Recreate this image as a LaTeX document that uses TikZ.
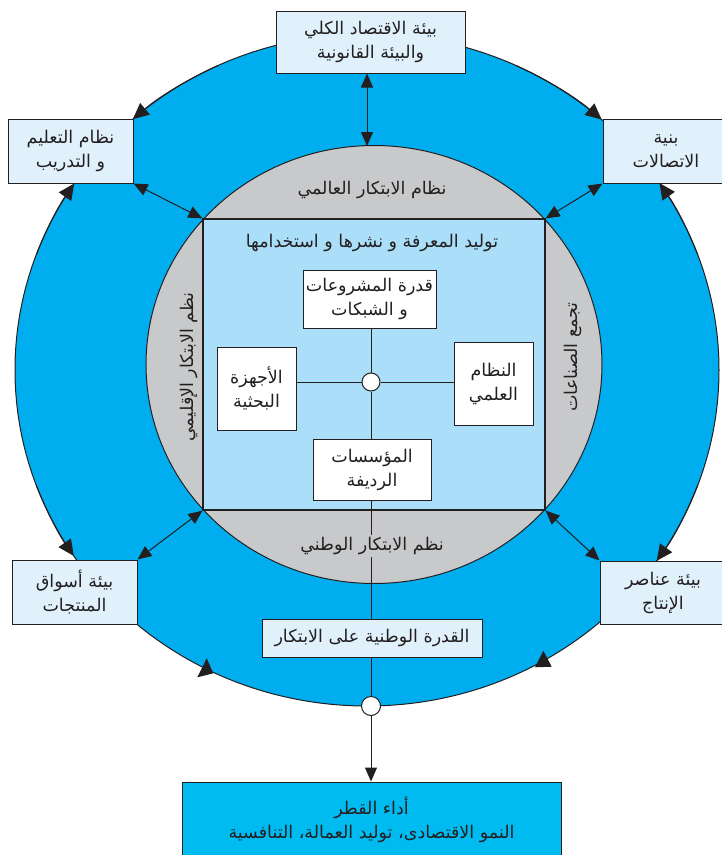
\documentclass[tikz,border=0pt]{standalone}
\usepackage{fontspec}
\usetikzlibrary{arrows.meta,positioning,calc}
\TeXXeTstate=1
\newfontfamily\arabicfont[Script=Arabic]{DejaVu Sans}
\newcommand{\artxt}[1]{\beginR#1\endR}
\definecolor{ringblue}{RGB}{0,174,239}
\definecolor{coregray}{RGB}{200,201,203}
\definecolor{sqblue}{RGB}{171,222,248}
\definecolor{boxtint}{RGB}{225,241,252}
\definecolor{perfblue}{RGB}{0,187,240}
\definecolor{ink}{RGB}{35,31,32}
\tikzset{
  envbox/.style={draw=ink, fill=boxtint, line width=1pt, align=center, inner sep=2pt,
                 text=ink, font=\arabicfont\fontsize{17.5}{24}\selectfont},
  unit/.style={envbox, fill=white},
  lbl/.style={text=ink, inner sep=2pt, font=\arabicfont\fontsize{17.5}{24}\selectfont},
  link/.style={draw=ink, line width=1pt},
  ringarrow/.style={link, -{Triangle[length=16pt,width=15pt]}},
  dbl/.style={link, {Triangle[length=14pt,width=12pt]}-{Triangle[length=14pt,width=12pt]}},
  flow/.style={link, -{Triangle[length=14pt,width=12pt]}},
}

\begin{document}
\begin{tikzpicture}[x=1pt,y=-1pt]
  \useasboundingbox (0,0) rectangle (721,855);
  % outer ring and core
  \coordinate (ring) at (367,370);
  \filldraw[draw=ink, fill=ringblue, line width=1pt] (ring) ellipse [x radius=352, y radius=336];
  \coordinate (core) at (374,364.5);
  \filldraw[draw=ink, fill=coregray, line width=1pt] (core) ellipse [x radius=228, y radius=219];
  \node[draw=ink, fill=sqblue, line width=1.2pt, minimum width=342, minimum height=291] (sq) at (core) {};
  \coordinate (gtop) at (367,146);

  % arrows along the ring
  \foreach \from/\to in {245/228.3, 295/311.8, 160/146.4, 200/213.7, 20/34.6, -20/-33.8}
    \draw[ringarrow] ([shift={(ring)}]\from:352 and 336)
      arc[start angle=\from, end angle=\to, x radius=352, y radius=336];
  \fill[ink] (206.7,658.3) -- (197.3,677.3) -- (213.3,673.3) -- cycle;
  \fill[ink] (543.3,650.7) -- (535,667.3) -- (551.7,666.7) -- cycle;

  % environment boxes
  \node[envbox, minimum width=189, minimum height=62] (macro) at (370.5,42)
    {\artxt{بيئة الاقتصاد الكلي}\\\artxt{والبيئة القانونية}};
  \node[envbox, minimum width=125, minimum height=64] (edu) at (70.5,151)
    {\artxt{نظام التعليم}\\\artxt{و التدريب}};
  \node[envbox, minimum width=126, minimum height=64] (telecom) at (666,151)
    {\artxt{بنية}\\\artxt{الاتصالات}};
  \node[envbox, minimum width=125, minimum height=64] (markets) at (74.5,592)
    {\artxt{بيئة أسواق}\\\artxt{المنتجات}};
  \node[envbox, minimum width=126, minimum height=63] (factors) at (663,592.5)
    {\artxt{بيئة عناصر}\\\artxt{الإنتاج}};
  \node[envbox, minimum width=220, minimum height=38] (capacity) at (372,638)
    {\artxt{القدرة الوطنية على الابتكار}};
  \node[envbox, fill=perfblue, minimum width=379, minimum height=76] (perf) at (371.5,820)
    {\artxt{أداء القطر}\\\artxt{النمو الاقتصادى، توليد العمالة، التنافسية}};

  % units inside the square
  \node[lbl] (title) at (372,243) {\artxt{توليد المعرفة و نشرها و استخدامها}};
  \node[unit, minimum width=133, minimum height=58] (firms) at (369.5,299)
    {\artxt{قدرة المشروعات}\\\artxt{و الشبكات}};
  \node[unit, minimum width=79, minimum height=83] (labs) at (256.5,388.5)
    {\artxt{الأجهزة}\\\artxt{البحثية}};
  \node[unit, minimum width=79, minimum height=83] (science) at (493.5,383.5)
    {\artxt{النظام}\\\artxt{العلمي}};
  \node[unit, minimum width=118, minimum height=61] (bridge) at (372,469.5)
    {\artxt{المؤسسات}\\\artxt{الرديفة}};
  \node[draw=ink, fill=white, circle, line width=1pt, minimum size=18, inner sep=0pt] (hub) at (371,382) {};
  \node[draw=ink, fill=white, circle, line width=1pt, minimum size=19, inner sep=0pt] (bhub) at (371,706) {};

  % links
  \draw[link] (firms.south -| hub) -- (hub.north);
  \draw[link] (hub.south) -- (bridge.north -| hub);
  \draw[link] (hub -| labs.east) -- (hub.west);
  \draw[link] (hub.east) -- (hub -| science.west);
  \draw[link] (bridge.south -| hub) -- (capacity.north -| hub);
  \draw[link] (capacity.south -| hub) -- (bhub.north);
  \draw[flow] (bhub.south) -- (perf.north -| bhub);

  % labels on the grey ring
  \node[lbl, fill=coregray] (global) at (372,190) {\artxt{نظام الابتكار العالمي}};
  \node[lbl, fill=coregray] (national) at (372,546) {\artxt{نظم الابتكار الوطني}};
  \node[lbl, rotate=90] (regional) at (189,367) {\artxt{نظم الابتكار الإقليمي}};
  \node[lbl, rotate=90] (cluster) at (573,357) {\artxt{تجمع الصناعات}};

  % two-way links
  \draw[dbl] (macro.south -| gtop) -- (gtop);
  \draw[dbl] (edu.south east) -- (sq.north west);
  \draw[dbl] (telecom.south west) -- (sq.north east);
  \draw[dbl] (markets.north east) -- (sq.south west);
  \draw[dbl] (factors.north west) -- (sq.south east);
\end{tikzpicture}
\end{document}
